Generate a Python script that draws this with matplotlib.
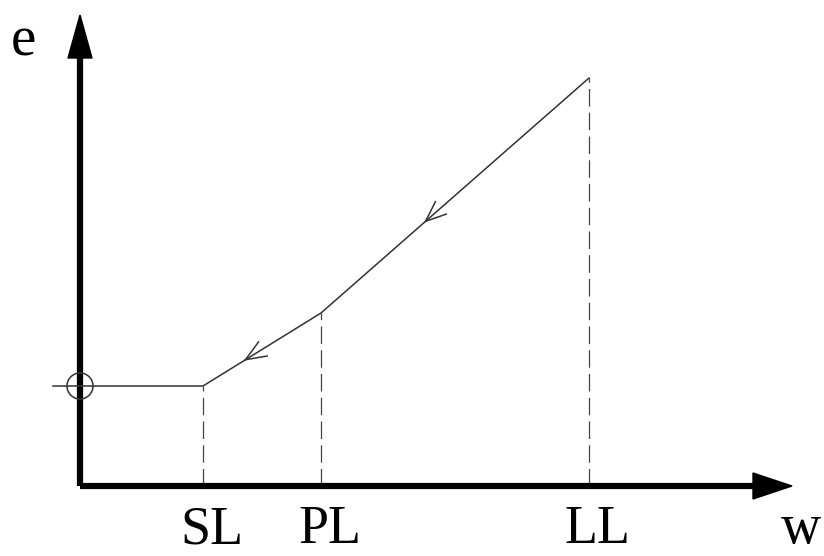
import numpy as np
import matplotlib
matplotlib.use("Agg")
import matplotlib.pyplot as plt
from matplotlib.patches import Polygon, Circle

# limits on the w axis and the e value reached at each one
limit_names = ["SL", "PL", "LL"]
limit_w = [123, 241, 509]
limit_e = [100, 173, 408]
# the flat part left of SL
flat_start_w = -27
# where the direction arrows sit along each sloped segment (fraction)
arrow_frac = [0.36, 0.39]

# axis ends
w_end = 712
e_end = 471

plt.rcParams["font.family"] = ["Liberation Serif", "DejaVu Serif"]

fig = plt.figure(figsize=(8.24, 5.56), dpi=100)
ax = fig.add_axes([0, 0, 1, 1])
ax.set_xlim(-80, 744)
ax.set_ylim(-70, 486)
ax.set_aspect("equal")
ax.axis("off")

line_col = "#333333"

# curve: flat then two slopes
cw = [flat_start_w, limit_w[0], limit_w[1], limit_w[2]]
ce = [limit_e[0], limit_e[0], limit_e[1], limit_e[2]]
ax.plot(cw, ce, color=line_col, lw=1.1, zorder=3)

# dashed drops to the w axis
for w, e in zip(limit_w, limit_e):
    ax.plot([w, w], [0, e], color="#444444", lw=0.9,
            dashes=(14, 5), zorder=2)

# open V arrows pointing back down the curve
for i, f in enumerate(arrow_frac):
    x0, y0 = limit_w[i], limit_e[i]
    x1, y1 = limit_w[i + 1], limit_e[i + 1]
    tip = np.array([x0 + f * (x1 - x0), y0 + f * (y1 - y0)])
    d = np.array([x1 - x0, y1 - y0], dtype=float)
    d /= np.hypot(*d)
    for ang in (np.radians(22), -np.radians(22)):
        rot = np.array([[np.cos(ang), -np.sin(ang)],
                        [np.sin(ang), np.cos(ang)]])
        arm = tip + 22 * rot.dot(d)
        ax.plot([tip[0], arm[0]], [tip[1], arm[1]], color=line_col,
                lw=1.1, zorder=3)

# axes with filled arrow heads
ax.plot([0, w_end - 38], [0, 0], color="k", lw=4.5, solid_capstyle="butt")
ax.plot([0, 0], [0, e_end - 42], color="k", lw=4.5, solid_capstyle="butt")
ax.add_patch(Polygon([[w_end - 39, 13], [w_end, 0], [w_end - 39, -13]],
                     closed=True, color="k"))
ax.add_patch(Polygon([[-12, e_end - 43], [0, e_end], [12, e_end - 43]],
                     closed=True, color="k"))

# circle on the e axis
ax.add_patch(Circle((0, limit_e[0]), 13, fill=False, ec=line_col, lw=1.1,
                    zorder=4))

# labels
for name, w in zip(limit_names, limit_w):
    ax.text(w + 9, -57, name, fontsize=39, ha="center", va="baseline")
ax.text(-57, 430, "e", fontsize=41, ha="center", va="baseline")
ax.text(721, -57, "w", fontsize=40, ha="center", va="baseline")

fig.savefig("out.png", dpi=100)
